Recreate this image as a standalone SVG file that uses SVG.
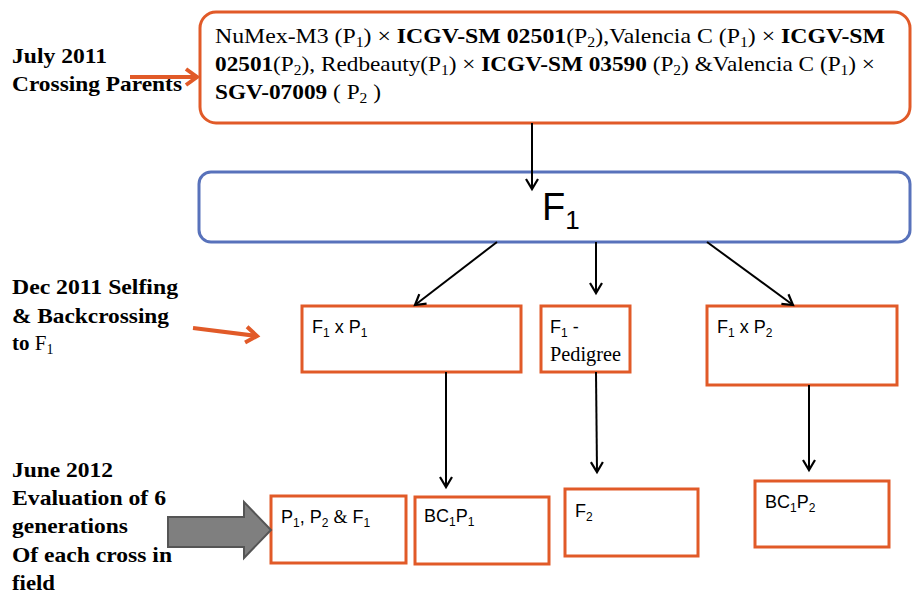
<svg xmlns="http://www.w3.org/2000/svg" width="912" height="596" viewBox="0 0 912 596">
<style>
.ob{fill:#fff;stroke:#E15A28;stroke-width:3}
.bb{fill:#fff;stroke:#5872BB;stroke-width:3}
.lbl{font-family:"Liberation Serif","Times New Roman",serif;font-weight:bold;font-size:21px;fill:#000}
.tt{font-family:"Liberation Serif","Times New Roman",serif;font-size:21px;fill:#000}
.sr{font-family:"Liberation Serif","Times New Roman",serif}
.ar{font-family:"Liberation Sans",Arial,sans-serif;font-size:18px;fill:#000}
.con{stroke:#000;stroke-width:2;fill:none;marker-end:url(#ah)}
.oa{stroke:#E15A28;stroke-width:4;fill:none;marker-end:url(#oh)}
</style>
<defs>
<marker id="ah" markerUnits="userSpaceOnUse" markerWidth="16" markerHeight="16" viewBox="-12 -8 14 16" refX="0" refY="0" orient="auto">
<polyline points="-10,-6 0,0 -10,6" fill="none" stroke="#000" stroke-width="2.2"/>
</marker>
<marker id="oh" markerUnits="userSpaceOnUse" markerWidth="20" markerHeight="20" viewBox="-14 -10 16 20" refX="0" refY="0" orient="auto">
<polyline points="-11,-8 0,0 -11,8" fill="none" stroke="#E15A28" stroke-width="4" stroke-linejoin="miter"/>
</marker>
</defs>

<g id="labels">
<text class="lbl" x="12" y="63" textLength="95" lengthAdjust="spacingAndGlyphs">July 2011</text>
<text class="lbl" x="12" y="91" textLength="170" lengthAdjust="spacingAndGlyphs">Crossing Parents</text>
<text class="lbl" x="12" y="294" textLength="166" lengthAdjust="spacingAndGlyphs">Dec 2011 Selfing</text>
<text class="lbl" x="12" y="323" textLength="157" lengthAdjust="spacingAndGlyphs">&amp; Backcrossing</text>
<text class="lbl" x="12" y="350">to <tspan font-weight="normal">F<tspan font-size="14" dy="4">1</tspan></tspan></text>
<text class="lbl" x="12" y="477" textLength="101" lengthAdjust="spacingAndGlyphs">June 2012</text>
<text class="lbl" x="12" y="505" textLength="154" lengthAdjust="spacingAndGlyphs">Evaluation of 6</text>
<text class="lbl" x="12" y="533" textLength="116" lengthAdjust="spacingAndGlyphs">generations</text>
<text class="lbl" x="12" y="562" textLength="160" lengthAdjust="spacingAndGlyphs">Of each cross in</text>
<text class="lbl" x="12" y="590" textLength="43" lengthAdjust="spacingAndGlyphs">field</text>
</g>

<g id="parents">
<rect class="ob" x="200" y="12" width="710" height="111" rx="16"/>
<text class="tt" x="215" y="43" textLength="670" lengthAdjust="spacingAndGlyphs">NuMex-M3 (P<tspan font-size="14" dy="4">1</tspan><tspan dy="-4">) × </tspan><tspan font-weight="bold">ICGV-SM 02501</tspan>(P<tspan font-size="14" dy="4">2</tspan><tspan dy="-4">),Valencia C (P</tspan><tspan font-size="14" dy="4">1</tspan><tspan dy="-4">) × </tspan><tspan font-weight="bold">ICGV-SM</tspan></text>
<text class="tt" x="215" y="71" textLength="660" lengthAdjust="spacingAndGlyphs"><tspan font-weight="bold">02501</tspan>(P<tspan font-size="14" dy="4">2</tspan><tspan dy="-4">), Redbeauty(P</tspan><tspan font-size="14" dy="4">1</tspan><tspan dy="-4">) × </tspan><tspan font-weight="bold">ICGV-SM 03590 </tspan>(P<tspan font-size="14" dy="4">2</tspan><tspan dy="-4">) &amp;Valencia C (P</tspan><tspan font-size="14" dy="4">1</tspan><tspan dy="-4">) ×</tspan></text>
<text class="tt" x="215" y="99" textLength="166" lengthAdjust="spacingAndGlyphs"><tspan font-weight="bold">SGV-07009 </tspan>( P<tspan font-size="14" dy="4">2</tspan><tspan dy="-4"> )</tspan></text>
</g>

<g id="f1">
<rect class="bb" x="199" y="172" width="711" height="70" rx="12"/>
<text x="542" y="220" font-family="'Liberation Sans', Arial, sans-serif" font-size="38">F<tspan font-size="26" dy="9">1</tspan></text>
</g>

<g id="f1xp1">
<rect class="ob" x="302" y="306" width="219" height="66"/>
<text class="ar" x="312" y="333">F<tspan font-size="12" dy="4">1</tspan><tspan dy="-4"> x P</tspan><tspan font-size="12" dy="4">1</tspan></text>
</g>

<g id="pedigree">
<rect class="ob" x="541" y="306" width="89" height="66"/>
<text class="ar" x="550" y="333">F<tspan font-size="12" dy="4">1</tspan><tspan dy="-4"> -</tspan></text>
<text class="tt" x="550" y="361" style="font-size:20px" textLength="71" lengthAdjust="spacingAndGlyphs">Pedigree</text>
</g>

<g id="f1xp2">
<rect class="ob" x="707" y="306" width="190" height="79"/>
<text class="ar" x="717" y="333">F<tspan font-size="12" dy="4">1</tspan><tspan dy="-4"> x P</tspan><tspan font-size="12" dy="4">2</tspan></text>
</g>

<g id="p1p2f1">
<rect class="ob" x="271" y="496" width="135" height="67"/>
<text class="ar" x="281" y="523">P<tspan font-size="12" dy="4">1</tspan><tspan dy="-4">, P</tspan><tspan font-size="12" dy="4">2</tspan><tspan dy="-4"> </tspan><tspan class="sr">&amp;</tspan> F<tspan font-size="12" dy="4">1</tspan></text>
</g>

<g id="bc1p1">
<rect class="ob" x="415" y="497" width="134" height="67"/>
<text class="ar" x="424" y="522">BC<tspan font-size="12" dy="4">1</tspan><tspan dy="-4">P</tspan><tspan font-size="12" dy="4">1</tspan></text>
</g>

<g id="f2">
<rect class="ob" x="565" y="489" width="133" height="67"/>
<text class="ar" x="575" y="517">F<tspan font-size="12" dy="4">2</tspan></text>
</g>

<g id="bc1p2">
<rect class="ob" x="755" y="481" width="134" height="66"/>
<text class="ar" x="765" y="508">BC<tspan font-size="12" dy="4">1</tspan><tspan dy="-4">P</tspan><tspan font-size="12" dy="4">2</tspan></text>
</g>

<g id="connectors">
<line class="con" x1="532" y1="123" x2="532" y2="189"/>
<line class="con" x1="497" y1="242" x2="415" y2="305"/>
<line class="con" x1="596" y1="242" x2="596" y2="293"/>
<line class="con" x1="707" y1="242" x2="793" y2="305"/>
<line class="con" x1="446" y1="372" x2="446" y2="487"/>
<line class="con" x1="596" y1="372" x2="597" y2="472"/>
<line class="con" x1="809" y1="385" x2="809" y2="470"/>
<line class="oa" x1="130" y1="77" x2="197" y2="77"/>
<line class="oa" x1="193" y1="328" x2="257" y2="336"/>
<polygon points="168,517 244,517 244,502 271,530 244,558 244,547 168,547" fill="#7F7F7F" stroke="#555" stroke-width="2"/>
</g>
</svg>
